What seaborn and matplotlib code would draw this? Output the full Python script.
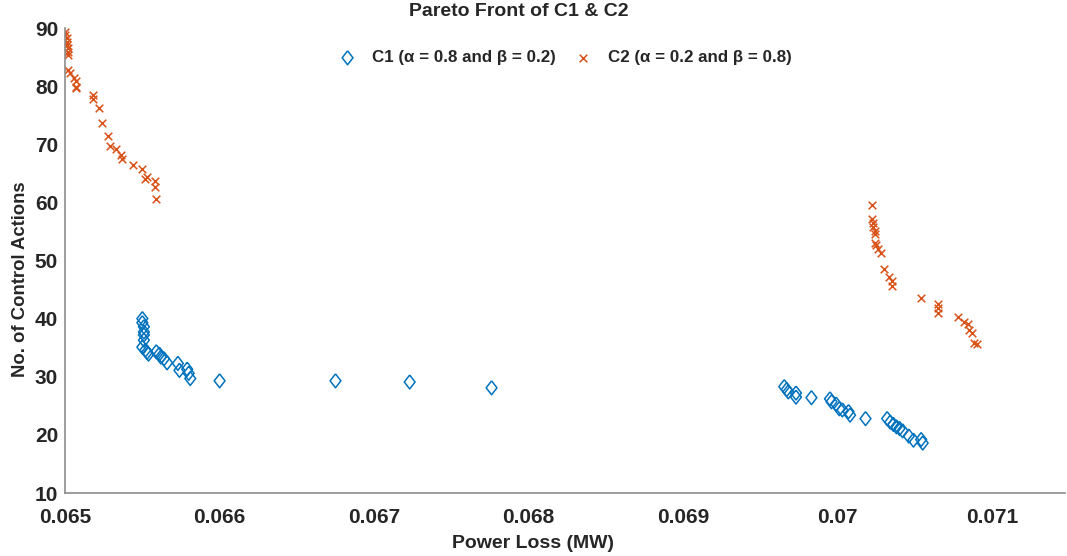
import matplotlib
matplotlib.use("Agg")
import matplotlib.pyplot as plt
import numpy as np
import pandas as pd
import seaborn as sns

# C1 (alpha = 0.8, beta = 0.2)
c1_loss = [0.06550, 0.06550, 0.06551, 0.06551, 0.06551, 0.06551, 0.06550, 0.06552,
           0.06553, 0.06554, 0.06559, 0.06561, 0.06562, 0.06564, 0.06566, 0.06573,
           0.06574, 0.06579, 0.06580, 0.06581, 0.06600, 0.06675, 0.06723, 0.06776,
           0.069654, 0.06967, 0.06968, 0.06973, 0.06973, 0.06983, 0.06995, 0.06996,
           0.06999, 0.07001, 0.07003, 0.07007, 0.07008, 0.07018, 0.07032, 0.07034,
           0.07036, 0.07038, 0.07040, 0.07042, 0.07046, 0.07049, 0.07054, 0.07055]
c1_actions = [40.0, 39.3, 38.6, 37.7, 37.2, 36.3, 35.1, 34.6,
              34.2, 33.9, 34.3, 33.9, 33.4, 33.1, 32.4, 32.3,
              31.1, 31.3, 30.6, 29.7, 29.3, 29.3, 29.1, 28.1,
              28.3, 27.8, 27.4, 27.2, 26.5, 26.4, 26.2, 25.7,
              25.3, 24.5, 24.3, 24.0, 23.4, 22.8, 22.8, 22.2,
              21.8, 21.4, 21.1, 20.7, 19.8, 19.1, 19.2, 18.6]

# C2 (alpha = 0.2, beta = 0.8)
c2_loss = [0.06500, 0.06500, 0.06501, 0.06501, 0.06501, 0.06502, 0.06502, 0.06502,
           0.06502, 0.06503, 0.06506, 0.06507, 0.06507, 0.06507, 0.06518, 0.06518,
           0.06522, 0.06524, 0.06528, 0.06529, 0.06533, 0.06536, 0.06537, 0.06544,
           0.06550, 0.06552, 0.06553, 0.06558, 0.06558, 0.06559,
           0.070225, 0.070225, 0.07023, 0.07023, 0.07024, 0.07024, 0.07024, 0.07025,
           0.07026, 0.07028, 0.07030, 0.07033, 0.07035, 0.07035, 0.07054, 0.07065,
           0.07065, 0.07065, 0.07078, 0.07082, 0.07084, 0.07085, 0.07087, 0.07088,
           0.07090]
c2_actions = [89.3, 88.8, 88.3, 87.6, 87.1, 86.6, 85.9, 85.4,
              82.8, 82.2, 81.4, 80.8, 79.9, 79.6, 78.5, 77.8,
              76.3, 73.7, 71.4, 69.7, 69.2, 68.1, 67.4, 66.5,
              65.7, 64.1, 64.3, 63.7, 62.6, 60.5,
              59.5, 57.1, 56.4, 55.7, 55.1, 54.5, 53.0, 52.6,
              51.9, 51.3, 48.6, 47.1, 46.4, 45.6, 43.6, 42.6,
              41.9, 41.0, 40.3, 39.5, 39.0, 38.1, 37.5, 35.8,
              35.7]

c1_label = "C1 (α = 0.8 and β = 0.2)"
c2_label = "C2 (α = 0.2 and β = 0.8)"

df1 = pd.DataFrame({"loss": c1_loss, "actions": c1_actions})
df2 = pd.DataFrame({"loss": c2_loss, "actions": c2_actions})

sns.set_style("white")
plt.rcParams["font.family"] = ["Liberation Sans", "DejaVu Sans"]
plt.rcParams["font.weight"] = "bold"

blue = "#0072BD"
orange = "#D95319"
diamond = [(0, 1), (0.78, 0), (0, -1), (-0.78, 0), (0, 1)]

fig = plt.figure(figsize=(10.67, 5.56), dpi=100)
ax = fig.add_axes([0.061, 0.1133, 0.937, 0.8363])

sns.scatterplot(data=df1, x="loss", y="actions", marker=diamond, s=100,
                facecolors="none", edgecolor=blue, linewidth=1.1,
                label=c1_label, ax=ax)
sns.scatterplot(data=df2, x="loss", y="actions", marker="x", s=30,
                color=orange, linewidth=1.1, label=c2_label, ax=ax)

ax.set_xlim(0.065, 0.07147)
ax.set_ylim(10, 90)
ax.set_xticks([0.065, 0.066, 0.067, 0.068, 0.069, 0.07, 0.071])
ax.set_xticklabels(["0.065", "0.066", "0.067", "0.068", "0.069", "0.07", "0.071"])
ax.set_yticks(range(10, 91, 10))

for side in ["top", "right"]:
    ax.spines[side].set_visible(False)
for side in ["left", "bottom"]:
    ax.spines[side].set_color("#8c8c8c")
    ax.spines[side].set_linewidth(1.2)
ax.tick_params(direction="in", length=5, width=1, color="#8c8c8c",
               labelsize=15, labelcolor="#262626")
ax.tick_params(axis="x", pad=11)
ax.tick_params(axis="y", pad=5)
for lbl in ax.get_xticklabels() + ax.get_yticklabels():
    lbl.set_fontweight("bold")

ax.set_xlabel("Power Loss (MW)", fontsize=14, fontweight="bold", color="#262626")
ax.xaxis.set_label_coords(0.468, -0.09)
ax.set_ylabel("No. of Control Actions", fontsize=13.3, fontweight="bold", color="#262626")
ax.yaxis.set_label_coords(-0.036, 0.459)
ax.set_title("Pareto Front of C1 & C2", fontsize=14, fontweight="bold", color="#262626",
             x=0.454, pad=9)

leg = ax.legend(loc="upper center", bbox_to_anchor=(0.496, 0.985), ncol=2, frameon=False,
                fontsize=12.2, columnspacing=0.6, handletextpad=0.45)
for t in leg.get_texts():
    t.set_fontweight("bold")
    t.set_color("#262626")

fig.savefig("out.png", dpi=100)
